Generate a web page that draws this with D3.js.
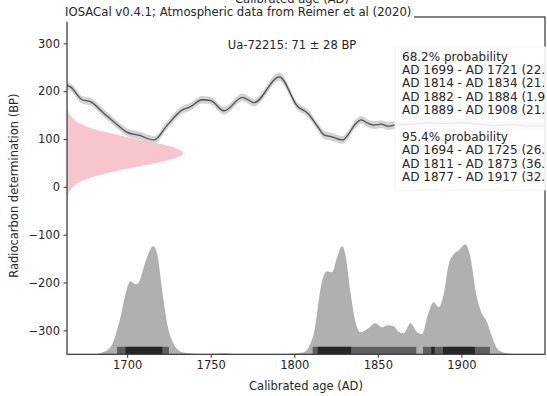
<!DOCTYPE html>
<html>
<head>
<meta charset="utf-8">
<script src="https://cdn.jsdelivr.net/npm/d3@7"></script>
<style>
  body { margin: 0; background: #fff; }
  svg { display: block; font-family: "DejaVu Sans", sans-serif; }
</style>
</head>
<body>
<svg id="chart" width="547" height="396"></svg>
<script>
// Calibration curve (BP against calendar year)
const curveYears = [1664, 1666, 1673, 1678, 1686, 1693, 1700, 1707, 1716, 1724, 1733, 1737, 1745, 1750, 1758, 1769, 1776, 1791, 1802, 1808, 1814, 1818, 1822, 1829, 1832, 1836, 1840, 1844, 1848, 1852, 1856, 1860, 1870, 1880, 1890, 1900, 1910, 1920, 1930, 1940, 1950]
const curveBP = [212, 209, 182, 178, 154, 133, 114, 108, 98, 129, 161, 166, 182, 180, 159, 187, 176, 230, 168, 154, 126, 108, 105, 98, 108, 129, 140, 133, 129, 131, 127, 129, 131, 134, 132, 134, 131, 128, 130, 127, 128]
const curveErr = [8, 8, 8, 8, 8, 8, 8, 8, 8, 8, 8, 8, 8, 8, 8, 8, 8, 9, 8, 8, 8, 8, 8, 8, 8, 8, 8, 8, 8, 8, 8, 8, 8, 8, 8, 8, 8, 8, 8, 8, 8]

// Calibrated age distribution (relative probability)
const calYears = [1664, 1680, 1684, 1690, 1696, 1699, 1702, 1705, 1707, 1711, 1715.6, 1718, 1721, 1724, 1728, 1733, 1740, 1750, 1758, 1765, 1790, 1800, 1805.6, 1811.6, 1816.6, 1819.6, 1822.6, 1825.6, 1828.6, 1830.5, 1833.5, 1836.5, 1839.5, 1843.5, 1848.5, 1852.5, 1856, 1859.5, 1862, 1865.4, 1869.5, 1873.5, 1876.5, 1879.5, 1883.4, 1886.4, 1889.4, 1892.4, 1895.4, 1898.4, 1902.4, 1905.4, 1908.4, 1911.4, 1915.4, 1918.4, 1922.3, 1927.4, 1935, 1940, 1950]
const calProb = [0, 0, 0.01, 0.064, 0.336, 0.545, 0.664, 0.636, 0.655, 0.845, 0.982, 0.909, 0.573, 0.273, 0.091, 0.018, 0.005, 0.003, 0.009, 0.002, 0.002, 0.007, 0.018, 0.182, 0.664, 0.755, 0.745, 0.882, 0.982, 0.909, 0.573, 0.3, 0.2, 0.227, 0.282, 0.245, 0.264, 0.255, 0.209, 0.191, 0.282, 0.2, 0.182, 0.336, 0.473, 0.427, 0.545, 0.818, 0.909, 0.945, 1.0, 0.882, 0.582, 0.4, 0.29, 0.155, 0.036, 0.009, 0.003, 0.002, 0]

// Radiocarbon determination, 71 ± 28 BP (relative probability)
const detBP = [-25, -15, 0, 15, 30, 45, 60, 71, 85, 100, 115, 130, 145, 160, 170]
const detProb = [0.003, 0.01, 0.04, 0.13, 0.34, 0.65, 0.92, 1.0, 0.88, 0.58, 0.29, 0.11, 0.03, 0.006, 0.001]

// Highest density ranges
const ranges68 = [[1699, 1721], [1814, 1834], [1882, 1884], [1889, 1908]]
const ranges95 = [[1694, 1725], [1811, 1873], [1877, 1917]]

const yTicks = [-300, -200, -100, 0, 100, 200, 300]
const xTicks = [1700, 1750, 1800, 1850, 1900]

// Legend lines, as far as the picture shows them before its right edge
const legendLines = [
  "68.2% probability",
  "AD 1699 - AD 1721 (22.",
  "AD 1814 - AD 1834 (21.",
  "AD 1882 - AD 1884 (1.9",
  "AD 1889 - AD 1908 (21.",
  "",
  "95.4% probability",
  "AD 1694 - AD 1725 (26.",
  "AD 1811 - AD 1873 (36.",
  "AD 1877 - AD 1917 (32."
]

const svg = d3.select("#chart")
const plotLeft = 67, plotRight = 545, plotTop = 17, plotBottom = 354.3
const textColour = "#262626"
const fontSize = 11.5

const x = d3.scaleLinear().domain([1664, 1950]).range([plotLeft, plotRight])
const y = d3.scaleLinear().domain([-350, 355]).range([plotBottom, plotTop])
const probY = d3.scaleLinear().domain([0, 1]).range([plotBottom, plotBottom - 110])
const detX = d3.scaleLinear().domain([0, 1]).range([plotLeft, plotLeft + 120])

svg.append("defs").append("clipPath")
  .attr("id", "plotClip")
  .append("rect")
  .attr("x", plotLeft).attr("y", plotTop)
  .attr("width", plotRight - plotLeft).attr("height", plotBottom - plotTop)

const plot = svg.append("g").attr("clip-path", "url(#plotClip)")

// Radiocarbon determination, drawn sideways from the y axis
const detData = detBP.map((v, i) => ({v: v, p: detProb[i]}))
plot.append("path")
  .datum(detData)
  .attr("fill", "#f6c5cd")
  .attr("d", d3.area()
    .y(d => y(d.v))
    .x0(plotLeft)
    .x1(d => detX(d.p))
    .curve(d3.curveBasis))

// Calibration curve with its error band
const curveData = curveYears.map((yr, i) => ({yr: yr, bp: curveBP[i], err: curveErr[i]}))
plot.append("path")
  .datum(curveData)
  .attr("fill", "#d2d2d2")
  .attr("d", d3.area()
    .x(d => x(d.yr))
    .y0(d => y(d.bp - d.err))
    .y1(d => y(d.bp + d.err))
    .curve(d3.curveMonotoneX))
plot.append("path")
  .datum(curveData)
  .attr("fill", "none")
  .attr("stroke", "#505050")
  .attr("stroke-width", 1.3)
  .attr("d", d3.line()
    .x(d => x(d.yr))
    .y(d => y(d.bp))
    .curve(d3.curveMonotoneX))

// Calibrated distribution
const calData = calYears.map((yr, i) => ({yr: yr, p: calProb[i]}))
plot.append("path")
  .datum(calData)
  .attr("fill", "#b0b0b0")
  .attr("d", d3.area()
    .x(d => x(d.yr))
    .y0(plotBottom)
    .y1(d => probY(d.p))
    .curve(d3.curveMonotoneX))

// Ranges along the bottom
plot.selectAll("rect.r95")
  .data(ranges95)
  .join("rect")
  .attr("class", "r95")
  .attr("x", d => x(d[0]))
  .attr("width", d => x(d[1]) - x(d[0]))
  .attr("y", plotBottom - 7.5)
  .attr("height", 7.5)
  .attr("fill", "#5e5e5e")
plot.selectAll("rect.r68")
  .data(ranges68)
  .join("rect")
  .attr("class", "r68")
  .attr("x", d => x(d[0]))
  .attr("width", d => x(d[1]) - x(d[0]))
  .attr("y", plotBottom - 7.5)
  .attr("height", 7.5)
  .attr("fill", "#262626")

// Frame
svg.append("rect")
  .attr("x", plotLeft).attr("y", plotTop)
  .attr("width", plotRight - plotLeft).attr("height", plotBottom - plotTop)
  .attr("fill", "none")
  .attr("stroke", "#333")
  .attr("stroke-width", 1.2)

// Axes
svg.append("g")
  .attr("transform", `translate(${plotLeft},0)`)
  .call(d3.axisLeft(y).tickValues(yTicks).tickSize(3.5).tickPadding(3.5))
svg.append("g")
  .attr("transform", `translate(0,${plotBottom})`)
  .call(d3.axisBottom(x).tickValues(xTicks).tickFormat(d3.format("d")).tickSize(3.5).tickPadding(3.5))
svg.selectAll(".domain").remove()
svg.selectAll(".tick line").attr("stroke", "#333").attr("stroke-width", 1)
svg.selectAll(".tick text")
  .attr("fill", textColour)
  .style("font-size", `${fontSize}px`)
  .style("font-family", "DejaVu Sans, sans-serif")

svg.append("text")
  .attr("x", (plotLeft + plotRight) / 2)
  .attr("y", 390)
  .attr("text-anchor", "middle")
  .attr("fill", textColour)
  .style("font-size", `${fontSize}px`)
  .text("Calibrated age (AD)")

svg.append("text")
  .attr("transform", `translate(18,${(plotTop + plotBottom) / 2}) rotate(-90)`)
  .attr("text-anchor", "middle")
  .attr("fill", textColour)
  .style("font-size", `${fontSize}px`)
  .text("Radiocarbon determination (BP)")

// Legend box
svg.append("rect")
  .attr("x", 395).attr("y", 47)
  .attr("width", 160).attr("height", 143)
  .attr("fill", "white")
  .attr("fill-opacity", 0.88)
  .attr("stroke", "#f2f2f2")
  .attr("stroke-width", 0.8)
svg.append("g")
  .selectAll("text")
  .data(legendLines)
  .join("text")
  .attr("x", 402)
  .attr("y", (d, i) => 60.5 + i * 13.4)
  .attr("fill", textColour)
  .style("font-size", "12px")
  .text(d => d)

// Sample label
svg.append("text")
  .attr("x", 292)
  .attr("y", 49)
  .attr("text-anchor", "middle")
  .attr("fill", textColour)
  .style("font-size", `${fontSize}px`)
  .text("Ua-72215: 71 ± 28 BP")

// Title with its white box over the top spine
svg.append("rect")
  .attr("x", 60).attr("y", 4)
  .attr("width", 354).attr("height", 17.7)
  .attr("fill", "white")
svg.append("text")
  .attr("x", 65)
  .attr("y", 16)
  .attr("fill", textColour)
  .style("font-size", "11.7px")
  .text("IOSACal v0.4.1; Atmospheric data from Reimer et al (2020)")

svg.append("text")
  .attr("x", 292)
  .attr("y", 3)
  .attr("text-anchor", "middle")
  .attr("fill", textColour)
  .style("font-size", `${fontSize}px`)
  .text("Calibrated age (AD)")
</script>
</body>
</html>
